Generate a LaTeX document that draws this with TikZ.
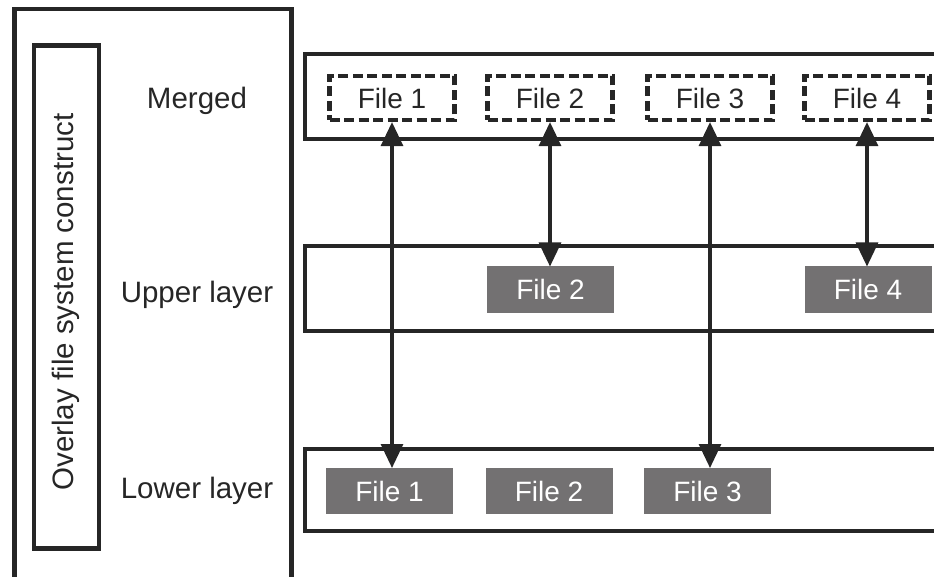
\documentclass[tikz,border=0pt]{standalone}
\usepackage{fontspec}
\setmainfont{Liberation Sans}
\usetikzlibrary{arrows.meta}
\definecolor{filegray}{RGB}{115,113,114}
\definecolor{linec}{RGB}{38,38,38}
\tikzset{
  frame/.style={draw=linec, line width=4.2pt},
  dashfile/.style={draw=linec, line width=4.2pt, dash pattern=on 10pt off 4.5pt,
    minimum width=125pt, minimum height=44pt, inner sep=0pt,
    font=\fontsize{28}{32}\selectfont, text=black!85},
  grayfile/.style={fill=filegray, minimum width=127pt, minimum height=46pt,
    inner sep=0pt, outer sep=0pt, text=white, font=\fontsize{28}{32}\selectfont},
  lbl/.style={font=\fontsize{29.5}{34}\selectfont, text=black!85},
  link/.style={draw=linec, line width=3.2pt, {Triangle[length=24pt,width=22pt]}-{Triangle[length=24pt,width=22pt]}},
}
\begin{document}
\begin{tikzpicture}[x=1pt,y=-1pt]
\useasboundingbox (0,0) rectangle (934,577);
\clip (0,0) rectangle (934,577);
% left panel
\draw[frame] (14.5,600) -- (14.5,8.7) -- (291.5,8.7) -- (291.5,600);
\node[frame, minimum width=65pt, minimum height=503pt, inner sep=0pt] (construct) at (66.2,297) {};
\node[lbl, rotate=90] (constructlbl) at ([yshift=-5pt]construct.center) {Overlay file system construct};
\node[lbl] (mergedlbl) at (197,101) {Merged};
\node[lbl] (upperlbl) at (197,295) {Upper layer};
\node[lbl] (lowerlbl) at (197,491) {Lower layer};
% layer frames
\node[frame, anchor=north west, minimum width=660pt, minimum height=85pt, inner sep=0pt, outer sep=0pt] (mergedbox) at (305,54) {};
\node[frame, anchor=north west, minimum width=660pt, minimum height=85pt, inner sep=0pt, outer sep=0pt] (upperbox) at (305,246) {};
\node[frame, anchor=north west, minimum width=660pt, minimum height=82pt, inner sep=0pt, outer sep=0pt] (lowerbox) at (305,449) {};
% merged files
\node[dashfile] (m1) at (392,98) {File 1};
\node[dashfile] (m2) at (550,98) {File 2};
\node[dashfile] (m3) at (710,98) {File 3};
\node[dashfile] (m4) at (867,98) {File 4};
% upper files
\node[grayfile] (u2) at (550.5,289.5) {File 2};
\node[grayfile] (u4) at (868,289.5) {File 4};
% lower files
\node[grayfile] (l1) at (389.5,491) {File 1};
\node[grayfile] (l2) at (549,491) {File 2};
\node[grayfile] (l3) at (707.5,491) {File 3};
% links
\draw[link] (m1.south) -- (m1.south |- l1.north);
\draw[link] (m2.south) -- (m2.south |- u2.north);
\draw[link] (m3.south) -- (m3.south |- l3.north);
\draw[link] (m4.south) -- (m4.south |- u4.north);
\end{tikzpicture}
\end{document}
